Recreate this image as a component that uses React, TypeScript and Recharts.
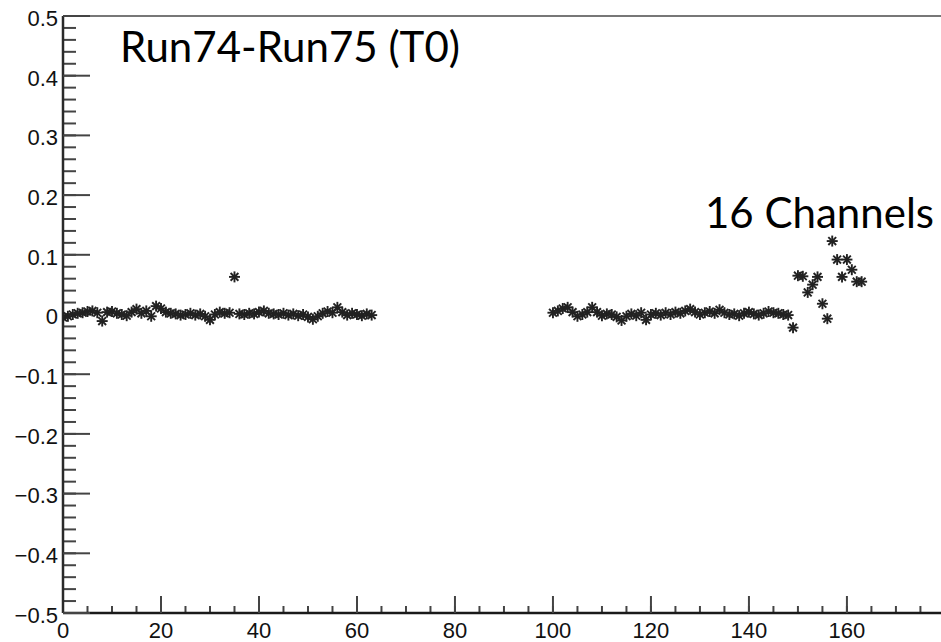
import { ReferenceLine, Scatter, ScatterChart, XAxis, YAxis } from "recharts";

// Run74 - Run75 difference per T0 channel
const BLOCK1_START = 0;
const block1Values = [
  -0.005, -0.003, 0.0, 0.002, 0.003, 0.005, 0.006, 0.003, -0.011, 0.004,
  0.005, 0.002, 0.0, -0.002, 0.004, 0.009, 0.002, 0.006, -0.003, 0.014,
  0.01, 0.004, 0.002, 0.001, -0.001, 0.0, 0.002, -0.001, 0.001, -0.003,
  -0.009, 0.0, 0.004, 0.002, 0.003, 0.063, 0.001, 0.0, 0.002, 0.001,
  0.004, 0.006, 0.002, 0.001, 0.0, 0.002, -0.001, 0.001, -0.002, 0.0,
  -0.004, -0.008, -0.003, 0.002, 0.005, 0.003, 0.012, 0.004, -0.001, 0.002,
  0.0, -0.002, 0.001, -0.001,
];

const BLOCK2_START = 100;
const block2Values = [
  0.003, 0.006, 0.01, 0.012, 0.004, -0.003, 0.0, 0.004, 0.012, 0.004,
  -0.002, 0.001, 0.0, -0.004, -0.01, -0.003, 0.001, -0.002, 0.003, -0.009,
  0.0, 0.002, -0.001, 0.003, 0.0, 0.004, 0.002, 0.006, 0.009, 0.004,
  0.0, 0.003, 0.005, 0.002, 0.008, 0.003, 0.0, 0.001, -0.002, 0.002,
  0.004, 0.001, -0.001, 0.002, 0.005, 0.003, 0.002, 0.0,
];

// the "16 Channels" group
const EDGE_START = 148;
const edgeValues = [
  -0.001, -0.022, 0.065, 0.064, 0.037, 0.05, 0.063, 0.018,
  -0.007, 0.123, 0.092, 0.063, 0.092, 0.075, 0.055, 0.055,
];

const X_DOMAIN: [number, number] = [0, 179.2];
const Y_DOMAIN: [number, number] = [-0.5, 0.5];
const xMajorTicks = [0, 20, 40, 60, 80, 100, 120, 140, 160];
const yMajorTicks = [-0.5, -0.4, -0.3, -0.2, -0.1, 0, 0.1, 0.2, 0.3, 0.4, 0.5];

function steps(from: number, to: number, step: number) {
  const out: number[] = [];
  for (let v = from; v <= to + 1e-9; v += step) out.push(Math.round(v * 1000) / 1000);
  return out;
}
const xMinorTicks = steps(0, 175, 5);
const yMinorTicks = steps(-0.5, 0.5, 0.02);

const toPoints = (start: number, values: number[]) =>
  values.map((v, i) => ({ ch: start + i, diff: v }));

function Asterisk(props: any) {
  const { cx, cy } = props;
  if (cx == null || cy == null) return null;
  const r = 5.5;
  const d = 3.9;
  return (
    <g stroke="#222" strokeWidth={1.9}>
      <line x1={cx - r} y1={cy} x2={cx + r} y2={cy} />
      <line x1={cx} y1={cy - r} x2={cx} y2={cy + r} />
      <line x1={cx - d} y1={cy - d} x2={cx + d} y2={cy + d} />
      <line x1={cx - d} y1={cy + d} x2={cx + d} y2={cy - d} />
    </g>
  );
}

const NoLabel = () => <g />;

const fmtY = (v: number) => (v === 0 ? "0" : v.toFixed(1).replace("-", "\u2212"));

const labelFont = { fill: "#111", fontSize: 22, fontFamily: "'Liberation Sans', Arial, sans-serif" };
const tickStroke = { stroke: "#444", strokeWidth: 2 };

export default function App() {
  return (
    <div style={{ position: "absolute", left: 0, top: 0, width: 941, height: 642, background: "#fff" }}>
      <ScatterChart width={941} height={642} margin={{ top: 16, right: 0, bottom: 0, left: 0 }}>
        <XAxis
          xAxisId="minor"
          type="number"
          dataKey="ch"
          domain={X_DOMAIN}
          allowDataOverflow
          ticks={xMinorTicks}
          interval={0}
          mirror
          height={1}
          tick={NoLabel}
          tickSize={7}
          axisLine={false}
          tickLine={tickStroke}
        />
        <YAxis
          yAxisId="minor"
          type="number"
          dataKey="diff"
          domain={Y_DOMAIN}
          allowDataOverflow
          ticks={yMinorTicks}
          interval={0}
          mirror
          width={1}
          tick={NoLabel}
          tickSize={13}
          axisLine={false}
          tickLine={tickStroke}
        />
        <XAxis
          type="number"
          dataKey="ch"
          domain={X_DOMAIN}
          allowDataOverflow
          ticks={xMajorTicks}
          interval={0}
          height={29}
          tickSize={-17}
          tickMargin={26}
          tick={labelFont}
          axisLine={{ stroke: "#1a1a1a", strokeWidth: 2.5 }}
          tickLine={tickStroke}
        />
        <YAxis
          type="number"
          dataKey="diff"
          domain={Y_DOMAIN}
          allowDataOverflow
          ticks={yMajorTicks}
          interval={0}
          width={63}
          tickSize={-27}
          tickMargin={32}
          tickFormatter={fmtY}
          tick={{ ...labelFont, dy: 2 }}
          axisLine={{ stroke: "#2a2a2a", strokeWidth: 2.5 }}
          tickLine={tickStroke}
        />
        <ReferenceLine y={0.5} stroke="#777" strokeWidth={2} />
        <Scatter data={toPoints(BLOCK1_START, block1Values)} shape={Asterisk} isAnimationActive={false} />
        <Scatter data={toPoints(BLOCK2_START, block2Values)} shape={Asterisk} isAnimationActive={false} />
        <Scatter data={toPoints(EDGE_START, edgeValues)} shape={Asterisk} isAnimationActive={false} />
      </ScatterChart>
      <svg
        width={941}
        height={642}
        style={{ position: "absolute", left: 0, top: 0, pointerEvents: "none" }}
        fontFamily="Lato, 'Open Sans', sans-serif"
        fontSize={42}
        fill="#000"
      >
        <text x={120} y={62}>Run74-Run75 (T0)</text>
        <text x={705} y={228}>16 Channels</text>
      </svg>
    </div>
  );
}
